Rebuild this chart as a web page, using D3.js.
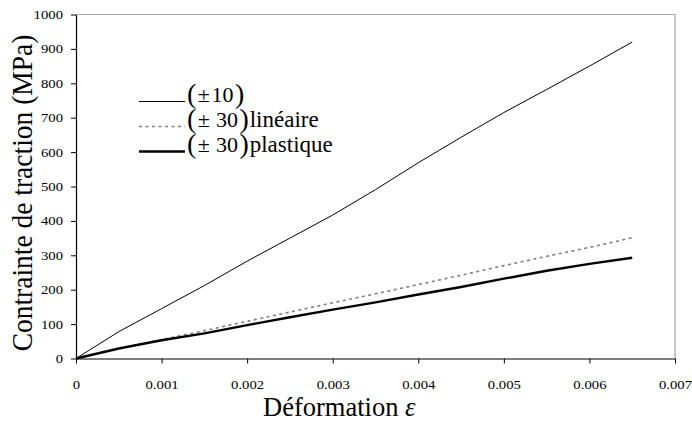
<!DOCTYPE html>
<html>
<head>
<meta charset="utf-8">
<script src="https://cdn.jsdelivr.net/npm/d3@7"></script>
<style>
  body { margin: 0; background: #fff; }
  text, tspan { font-family: "Liberation Serif", "Times New Roman", serif; fill: #000; }
</style>
</head>
<body>
<div id="chart"></div>
<script>
// values
var strain = [0, 0.0005, 0.001, 0.0015, 0.002, 0.0025, 0.003, 0.0035, 0.004, 0.0045, 0.005, 0.0055, 0.006, 0.0065];
var s10 = [0, 78, 145, 212, 283, 350, 417, 491, 569, 643, 715, 782, 850, 920];
var s30lin = [0, 28, 55, 81, 108, 135, 162, 188, 215, 242, 270, 297, 323, 351];
var s30pla = [0, 29, 53, 73, 97, 120, 142, 163, 186, 208, 232, 255, 275, 293];
var xTicks = [0, 0.001, 0.002, 0.003, 0.004, 0.005, 0.006, 0.007];
var yTicks = [0, 100, 200, 300, 400, 500, 600, 700, 800, 900, 1000];

var W = 692, H = 421;
var pLeft = 76, pRight = 675, pTop = 14.5, pBottom = 358.5;
var stretch = 1.18;

var svg = d3.select('#chart').append('svg')
    .attr('width', W)
    .attr('height', H);

var x = d3.scaleLinear().domain([0, 0.007]).range([pLeft, pRight]);
var y = d3.scaleLinear().domain([0, 1000]).range([pBottom, pTop]);

// grey frame top/right
svg.append('path')
    .attr('d', 'M' + pLeft + ',' + pTop + 'H' + pRight + 'V' + pBottom)
    .attr('fill', 'none')
    .attr('stroke', '#a6a6a6')
    .attr('stroke-width', 1.2);

var yAxis = d3.axisLeft(y).tickValues(yTicks).tickSize(5).tickSizeOuter(0).tickPadding(8)
    .tickFormat(d3.format('d'));
var xAxis = d3.axisBottom(x).tickValues(xTicks).tickSize(5).tickSizeOuter(0).tickPadding(17)
    .tickFormat(function(d){ return d === 0 ? '0' : d3.format('.3f')(d); });

var gy = svg.append('g').attr('transform', 'translate(' + pLeft + ',0)').call(yAxis);
var gx = svg.append('g').attr('transform', 'translate(0,' + pBottom + ')').call(xAxis);

[gx, gy].forEach(function(g){
    g.select('.domain').attr('stroke', '#000').attr('stroke-width', 1.2);
    g.selectAll('.tick line').attr('stroke', '#000');
    g.selectAll('text')
        .attr('font-family', '"Liberation Serif", serif')
        .attr('font-size', 12.5)
        .attr('fill', '#000');
});
gy.selectAll('text').attr('x', -13 / stretch).attr('transform', 'scale(' + stretch + ',1)');
gx.selectAll('text').attr('transform', 'scale(' + stretch + ',1)');

var line = d3.line()
    .x(function(d){ return x(d[0]); })
    .y(function(d){ return y(d[1]); });

function pairs(vals){
    return strain.map(function(s, i){ return [s, vals[i]]; });
}

svg.append('path').datum(pairs(s30lin))
    .attr('d', line).attr('fill', 'none')
    .attr('stroke', '#808080').attr('stroke-width', 1.6)
    .attr('stroke-dasharray', '3,3.5');
svg.append('path').datum(pairs(s30pla))
    .attr('d', line).attr('fill', 'none')
    .attr('stroke', '#000').attr('stroke-width', 2.4);
svg.append('path').datum(pairs(s10))
    .attr('d', line).attr('fill', 'none')
    .attr('stroke', '#000').attr('stroke-width', 1);

// legend
var legend = [
    {num: '10', gap: 1.5, word: '', y: 101.5, stroke: '#000', w: 1, dash: null},
    {num: '30', gap: 6, word: 'linéaire', y: 126.5, stroke: '#808080', w: 1.6, dash: '3,3.5'},
    {num: '30', gap: 6, word: 'plastique', y: 151.5, stroke: '#000', w: 2.4, dash: null}
];
var lg = svg.append('g');
legend.forEach(function(l){
    lg.append('line')
        .attr('x1', 139).attr('x2', 185)
        .attr('y1', l.y).attr('y2', l.y)
        .attr('stroke', l.stroke).attr('stroke-width', l.w)
        .attr('stroke-dasharray', l.dash);
    var t = lg.append('text')
        .attr('x', 187).attr('y', l.y);
    t.append('tspan').attr('font-size', 28).attr('dy', 1.5).text('(');
    t.append('tspan').attr('font-size', 22).attr('dy', -1.5).attr('dx', 1.5).text('\u00b1');
    t.append('tspan').attr('font-size', 22).attr('dx', l.gap).text(l.num);
    t.append('tspan').attr('font-size', 28).attr('dy', 1.5).attr('dx', 1.5).text(')');
    if (l.word) t.append('tspan').attr('font-size', 23).attr('dy', -1.5).attr('dx', 1).text(l.word);
});

// axis titles
var xt = svg.append('text')
    .attr('x', 263).attr('y', 416)
    .attr('font-size', 26.5);
xt.append('tspan').text('Déformation ');
xt.append('tspan').attr('font-style', 'italic').text('\u03b5');

svg.append('text')
    .attr('transform', 'translate(32,193) scale(1.1,1) rotate(-90)')
    .attr('text-anchor', 'middle')
    .attr('font-size', 27.5)
    .text('Contrainte de traction (MPa)');
</script>
</body>
</html>
